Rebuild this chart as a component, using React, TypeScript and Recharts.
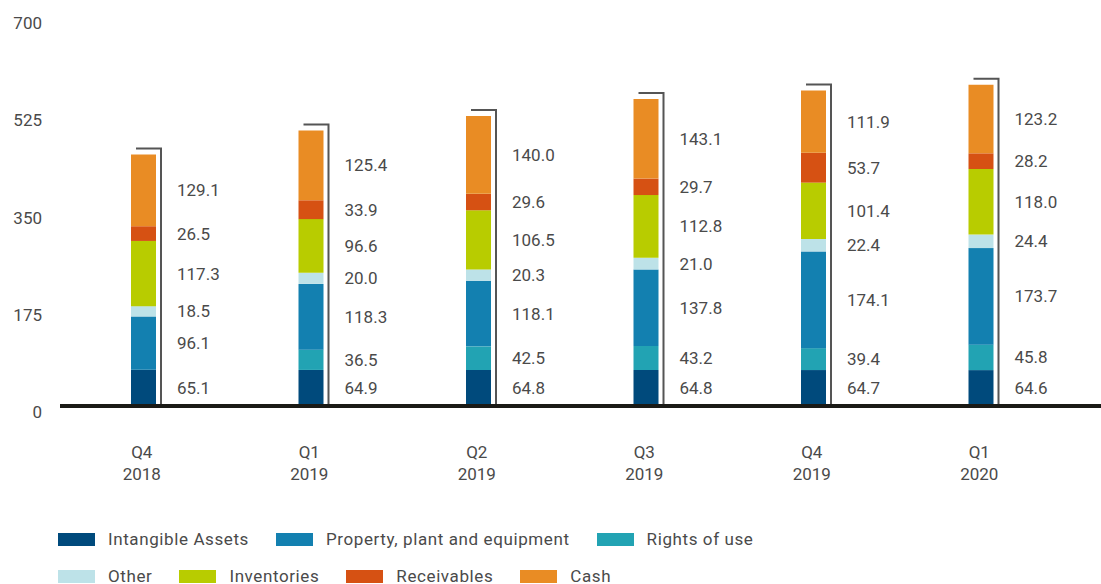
import React from 'react';
import { BarChart, Bar, XAxis, YAxis, LabelList, Rectangle } from 'recharts';

const categories = ['Q4 2018', 'Q1 2019', 'Q2 2019', 'Q3 2019', 'Q4 2019', 'Q1 2020'];
const intangibleAssets = [65.1, 64.9, 64.8, 64.8, 64.7, 64.6];
const rightsOfUse = [0, 36.5, 42.5, 43.2, 39.4, 45.8];
const propertyPlant = [96.1, 118.3, 118.1, 137.8, 174.1, 173.7];
const other = [18.5, 20.0, 20.3, 21.0, 22.4, 24.4];
const inventories = [117.3, 96.6, 106.5, 112.8, 101.4, 118.0];
const receivables = [26.5, 33.9, 29.6, 29.7, 53.7, 28.2];
const cash = [129.1, 125.4, 140.0, 143.1, 111.9, 123.2];
const yTicks = [0, 175, 350, 525, 700];

const data = categories.map((period, i) => ({
  period,
  intangible: intangibleAssets[i],
  rights: rightsOfUse[i],
  ppe: propertyPlant[i],
  other: other[i],
  inventories: inventories[i],
  receivables: receivables[i],
  cash: cash[i],
}));

// bottom to top
const series = [
  { key: 'intangible', name: 'Intangible Assets', color: '#004a7c' },
  { key: 'rights', name: 'Rights of use', color: '#22a3b3' },
  { key: 'ppe', name: 'Property, plant and equipment', color: '#1380b0' },
  { key: 'other', name: 'Other', color: '#bde2e8' },
  { key: 'inventories', name: 'Inventories', color: '#b8cc00' },
  { key: 'receivables', name: 'Receivables', color: '#d65113' },
  { key: 'cash', name: 'Cash', color: '#e98c24' },
];

const legendRows = [
  ['intangible', 'ppe', 'rights'],
  ['other', 'inventories', 'receivables', 'cash'],
];

const W = 1101;
const H = 584;
const MARGIN = { top: 17, right: 0, left: 0, bottom: 118 };
const X_AXIS_H = 60;
const PLOT_BOTTOM = H - MARGIN.bottom - X_AXIS_H;
const FONT = 'Roboto, "DejaVu Sans", sans-serif';
const TEXT = '#4a4a4a';

const ValueLabel = (props: any) => {
  const { x, y, width, height, value } = props;
  if (!value) return null;
  return (
    <text
      x={Number(x) + Number(width) + 21}
      y={Number(y) + Number(height) / 2}
      dominantBaseline="central"
      fontSize={17}
      fill={TEXT}
      fontFamily={FONT}
    >
      {Number(value).toFixed(1)}
    </text>
  );
};

const CashShape = (props: any) => {
  const { x, y, width, height, fill, background } = props;
  const base = background && background.height ? background.y + background.height : PLOT_BOTTOM;
  return (
    <g>
      <Rectangle x={x} y={y} width={width} height={height} fill={fill} />
      <path
        d={`M${x + 5},${y - 6} H${x + width + 5} V${base}`}
        fill="none"
        stroke="#555"
        strokeWidth={2}
      />
    </g>
  );
};

const PeriodTick = (props: any) => {
  const { x, y, payload } = props;
  const [q, year] = String(payload.value).split(' ');
  return (
    <g fontSize={17} fill={TEXT} fontFamily={FONT}>
      <text x={x - 2} y={y + 44} textAnchor="middle">
        {q}
      </text>
      <text x={x - 2} y={y + 66} textAnchor="middle">
        {year}
      </text>
    </g>
  );
};

export default function App() {
  return (
    <div style={{ position: 'absolute', left: 0, top: 0, width: W, height: H, background: '#fff' }}>
      <BarChart width={W} height={H} data={data} margin={MARGIN}>
        <XAxis
          dataKey="period"
          height={X_AXIS_H}
          axisLine={{ stroke: '#1a1a16', strokeWidth: 4 }}
          tickLine={false}
          tick={<PeriodTick />}
          padding={{ left: 0, right: 36 }}
          interval={0}
        />
        <YAxis
          width={60}
          domain={[0, 700]}
          ticks={yTicks}
          axisLine={false}
          tickLine={false}
          tickSize={0}
          tickMargin={18}
          tick={{ fontSize: 17, fill: TEXT, fontFamily: FONT, dy: 6 }}
        />
        {series.map((s) => (
          <Bar
            key={s.key}
            dataKey={s.key}
            name={s.name}
            stackId="a"
            fill={s.color}
            barSize={25}
            isAnimationActive={false}
            shape={s.key === 'cash' ? <CashShape /> : undefined}
          >
            <LabelList dataKey={s.key} content={<ValueLabel />} />
          </Bar>
        ))}
      </BarChart>
      <div
        style={{
          position: 'absolute',
          left: 58,
          top: 529,
          fontFamily: FONT,
          fontSize: 17,
          letterSpacing: 0.6,
          color: TEXT,
        }}
      >
        {legendRows.map((row, r) => (
          <div key={r} style={{ display: 'flex', alignItems: 'center', height: 20, marginBottom: 17, whiteSpace: 'nowrap' }}>
            {row.map((k) => {
              const s = series.find((d) => d.key === k)!;
              return (
                <div key={k} style={{ display: 'flex', alignItems: 'center', marginRight: 27 }}>
                  <span style={{ display: 'inline-block', width: 37, height: 13, background: s.color, marginRight: 13 }} />
                  <span>{s.name}</span>
                </div>
              );
            })}
          </div>
        ))}
      </div>
    </div>
  );
}
